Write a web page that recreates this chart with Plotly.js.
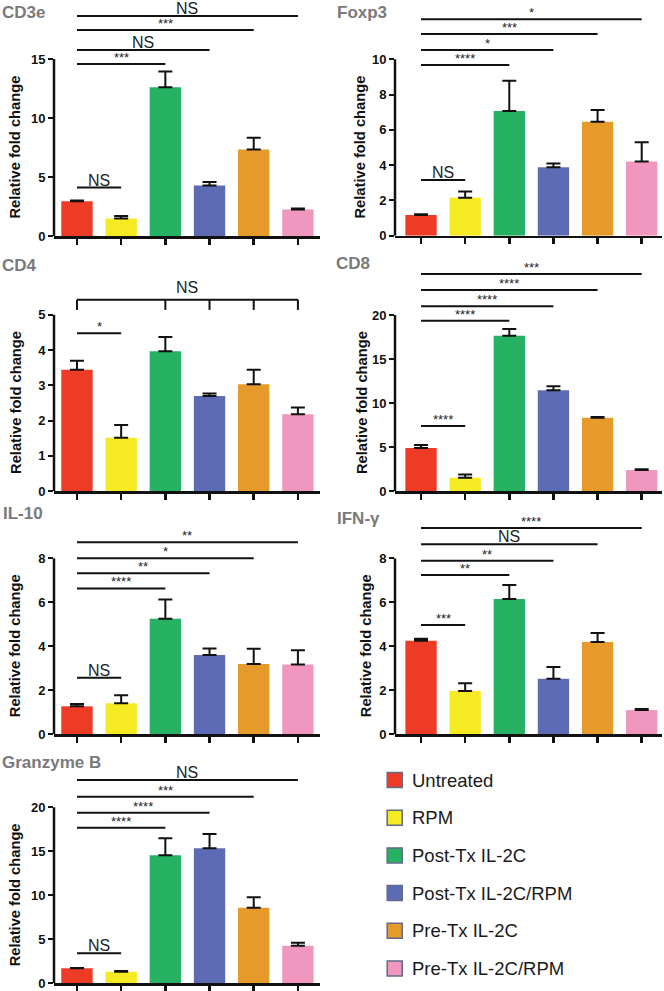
<!DOCTYPE html>
<html>
<head>
<meta charset="utf-8">
<script src="https://cdn.plot.ly/plotly-3.0.1.min.js"></script>
<style>
  html, body { margin: 0; padding: 0; background: #fff; }
  #chart { width: 664px; height: 991px; }
</style>
</head>
<body>
<div id="chart"></div>
<script>
// ===== DATA =====
const groups = ['Untreated', 'RPM', 'Post-Tx IL-2C', 'Post-Tx IL-2C/RPM', 'Pre-Tx IL-2C', 'Pre-Tx IL-2C/RPM'];
const groupColors = ['#EE3B26', '#F6EA22', '#27B163', '#5D6BB4', '#E69A29', '#F096BF'];

// relative fold change (mean) and upper error (SEM)
const cd3eMean = [2.95, 1.48, 12.6, 4.28, 7.33, 2.25];
const cd3eSem = [0.06, 0.22, 1.35, 0.30, 1.00, 0.08];
const foxp3Mean = [1.17, 2.15, 7.07, 3.88, 6.46, 4.20];
const foxp3Sem = [0.05, 0.35, 1.72, 0.22, 0.67, 1.10];
const cd4Mean = [3.44, 1.51, 3.97, 2.70, 3.03, 2.18];
const cd4Sem = [0.26, 0.36, 0.40, 0.07, 0.41, 0.19];
const cd8Mean = [4.90, 1.50, 17.65, 11.45, 8.33, 2.39];
const cd8Sem = [0.33, 0.38, 0.75, 0.45, 0.07, 0.08];
const il10Mean = [1.26, 1.40, 5.25, 3.60, 3.19, 3.17];
const il10Sem = [0.11, 0.36, 0.88, 0.30, 0.69, 0.65];
const ifngMean = [4.25, 1.96, 6.15, 2.52, 4.19, 1.09];
const ifngSem = [0.09, 0.35, 0.64, 0.53, 0.41, 0.05];
const gzmbMean = [1.70, 1.32, 14.55, 15.34, 8.59, 4.27];
const gzmbSem = [0.05, 0.08, 1.93, 1.63, 1.18, 0.33];

// significance bars: [from group, to group, height, label]
const cd3eSig = [[0, 1, 4.1, 'NS'], [0, 2, 14.58, '***'], [0, 3, 15.76, 'NS'], [0, 4, 17.46, '***'], [0, 5, 18.64, 'NS']];
const foxp3Sig = [[0, 1, 3.16, 'NS'], [0, 2, 9.68, '****'], [0, 3, 10.53, '*'], [0, 4, 11.43, '***'], [0, 5, 12.27, '*']];
const cd4Sig = [[0, 1, 4.48, '*']];
const cd8Sig = [[0, 1, 7.39, '****'], [0, 2, 19.35, '****'], [0, 3, 21.0, '****'], [0, 4, 22.84, '****'], [0, 5, 24.66, '***']];
const il10Sig = [[0, 1, 2.56, 'NS'], [0, 2, 6.63, '****'], [0, 3, 7.32, '**'], [0, 4, 8.0, '*'], [0, 5, 8.73, '**']];
const ifngSig = [[0, 1, 4.96, '***'], [0, 2, 7.24, '**'], [0, 3, 7.89, '**'], [0, 4, 8.64, 'NS'], [0, 5, 9.38, '****']];
const gzmbSig = [[0, 1, 3.41, 'NS'], [0, 2, 17.69, '****'], [0, 3, 19.39, '****'], [0, 4, 21.2, '***'], [0, 5, 23.1, 'NS']];
// CD4: bracket over all groups except RPM
const cd4Bracket = { y: 5.43, drop: 5.14, at: [0, 2, 3, 4, 5], label: 'NS' };

// ===== LAYOUT (pixels) =====
const W = 664, H = 991;
const FONT = 'Liberation Sans, Arial, sans-serif';
const INK = '#111';
const cols = [
    { left: 54, right: 320, range: [-0.52, 5.5] },
    { left: 395, right: 662, range: [-0.59, 5.46] }
];
const panels = [
    { name: 'CD3e', mean: cd3eMean, sem: cd3eSem, sig: cd3eSig, ticks: [0, 5, 10, 15], col: 0, top: 2, bottom: 236, yMax: 19.83, titleX: 0, titleY: 12, ytX: 15 },
    { name: 'Foxp3', mean: foxp3Mean, sem: foxp3Sem, sig: foxp3Sig, ticks: [0, 2, 4, 6, 8, 10], col: 1, top: 2, bottom: 235.7, yMax: 13.25, titleX: 335, titleY: 12, ytX: 360 },
    { name: 'CD4', mean: cd4Mean, sem: cd4Sem, sig: cd4Sig, ticks: [0, 1, 2, 3, 4, 5], col: 0, top: 262, bottom: 491, yMax: 6.5, titleX: 0, titleY: 265, ytX: 16 },
    { name: 'CD8', mean: cd8Mean, sem: cd8Sem, sig: cd8Sig, ticks: [0, 5, 10, 15, 20], col: 1, top: 258, bottom: 491, yMax: 26.48, titleX: 334, titleY: 263, ytX: 362 },
    { name: 'IL-10', mean: il10Mean, sem: il10Sem, sig: il10Sig, ticks: [0, 2, 4, 6, 8], col: 0, top: 525, bottom: 734, yMax: 9.52, titleX: 1, titleY: 513, ytX: 15 },
    { name: 'IFN-γ', mean: ifngMean, sem: ifngSem, sig: ifngSig, ticks: [0, 2, 4, 6, 8], col: 1, top: 505, bottom: 734, yMax: 10.43, titleX: 335, titleY: 518, ytX: 366 },
    { name: 'Granzyme B', mean: gzmbMean, sem: gzmbSem, sig: gzmbSig, ticks: [0, 5, 10, 15, 20], col: 0, top: 760, bottom: 983.3, yMax: 25.375, titleX: 0, titleY: 762, ytX: 15 }
];

const px = x => x / W;
const py = y => 1 - y / H;

const traces = [];
const shapes = [];
const annotations = [];
const layout = {
    width: W, height: H,
    margin: { l: 0, r: 0, t: 0, b: 0 },
    paper_bgcolor: '#fff', plot_bgcolor: 'rgba(0,0,0,0)',
    showlegend: false,
    font: { family: FONT, color: INK },
    barmode: 'overlay'
};

panels.forEach((p, i) => {
    const n = i === 0 ? '' : String(i + 1);
    const xa = 'x' + n, ya = 'y' + n;
    const c = cols[p.col];

    traces.push({
        type: 'bar', x: groups, y: p.mean, xaxis: xa, yaxis: ya,
        width: 0.71,
        marker: { color: groupColors, line: { width: 0 } },
        error_y: {
            type: 'data', symmetric: false, array: p.sem, arrayminus: p.sem.map(() => 0),
            color: INK, thickness: 2, width: 7
        },
        hoverinfo: 'skip'
    });

    layout['xaxis' + n] = {
        domain: [px(c.left), px(c.right)], range: c.range, anchor: ya,
        type: 'category', showticklabels: false,
        ticks: 'outside', ticklen: 6, tickwidth: 2.5, tickcolor: INK,
        showline: true, linecolor: INK, linewidth: 2.5,
        showgrid: false, zeroline: false, fixedrange: true
    };
    layout['yaxis' + n] = {
        domain: [py(p.bottom), py(p.top)], range: [0, p.yMax], anchor: xa,
        tickvals: p.ticks, ticks: 'outside', ticklen: 5, tickwidth: 2, tickcolor: INK,
        tickfont: { family: FONT, size: 13, color: INK, weight: 'bold' },
        showline: false, showgrid: false, zeroline: false, fixedrange: true
    };

    // y axis line, only up to the top tick
    shapes.push({
        type: 'line', xref: xa + ' domain', yref: ya, x0: 0, x1: 0,
        y0: 0, y1: p.ticks[p.ticks.length - 1], line: { color: INK, width: 2.5 }
    });

    // significance bars
    p.sig.forEach(([a, b, y, label]) => {
        shapes.push({ type: 'line', xref: xa, yref: ya, x0: a, x1: b, y0: y, y1: y, line: { color: INK, width: 2 } });
        const isNS = label === 'NS';
        annotations.push({
            xref: xa, yref: ya, x: (a + b) / 2, y: y, text: label, showarrow: false,
            yanchor: 'bottom', yshift: isNS ? -3 : -3,
            font: { family: FONT, size: isNS ? 16 : 13, color: '#222' }
        });
    });

    // panel title
    annotations.push({
        xref: 'paper', yref: 'paper', x: px(p.titleX), y: py(p.titleY),
        xanchor: 'left', yanchor: 'middle', text: p.name, showarrow: false,
        font: { family: FONT, size: 17, color: '#7a7a7a', weight: 'bold' }
    });

    // y axis title
    const zeroPx = p.bottom;
    const topTick = p.ticks[p.ticks.length - 1];
    const topPx = p.bottom - (p.bottom - p.top) * topTick / p.yMax;
    annotations.push({
        xref: 'paper', yref: 'paper', x: px(p.ytX), y: py((zeroPx + topPx) / 2),
        xanchor: 'center', yanchor: 'middle', textangle: -90,
        text: 'Relative fold change', showarrow: false,
        font: { family: FONT, size: 14.7, color: INK, weight: 'bold' }
    });
});

// CD4 bracket
(function () {
    const xa = 'x3', ya = 'y3';
    const b = cd4Bracket;
    shapes.push({ type: 'line', xref: xa, yref: ya, x0: b.at[0], x1: b.at[b.at.length - 1], y0: b.y, y1: b.y, line: { color: INK, width: 2 } });
    b.at.forEach(g => {
        shapes.push({ type: 'line', xref: xa, yref: ya, x0: g, x1: g, y0: b.drop, y1: b.y, line: { color: INK, width: 2 } });
    });
    annotations.push({
        xref: xa, yref: ya, x: (b.at[0] + b.at[b.at.length - 1]) / 2, y: b.y, text: b.label,
        showarrow: false, yanchor: 'bottom', yshift: 2,
        font: { family: FONT, size: 16, color: '#222' }
    });
})();

// legend (manual, to match spacing)
const legX = 394.7, legY0 = 780, legStep = 37.7, legBox = 15;
groups.forEach((g, i) => {
    const cy = legY0 + i * legStep;
    shapes.push({
        type: 'rect', xref: 'paper', yref: 'paper',
        x0: px(legX - legBox / 2), x1: px(legX + legBox / 2),
        y0: py(cy + legBox / 2), y1: py(cy - legBox / 2),
        fillcolor: groupColors[i], line: { color: '#5f6b88', width: 1.5 }
    });
    annotations.push({
        xref: 'paper', yref: 'paper', x: px(legX + 15.6), y: py(cy),
        xanchor: 'left', yanchor: 'middle', text: g, showarrow: false,
        font: { family: FONT, size: 18.5, color: '#1a1a1a' }
    });
});

layout.shapes = shapes;
layout.annotations = annotations;

Plotly.newPlot('chart', traces, layout, { displayModeBar: false, staticPlot: true });
</script>
</body>
</html>
